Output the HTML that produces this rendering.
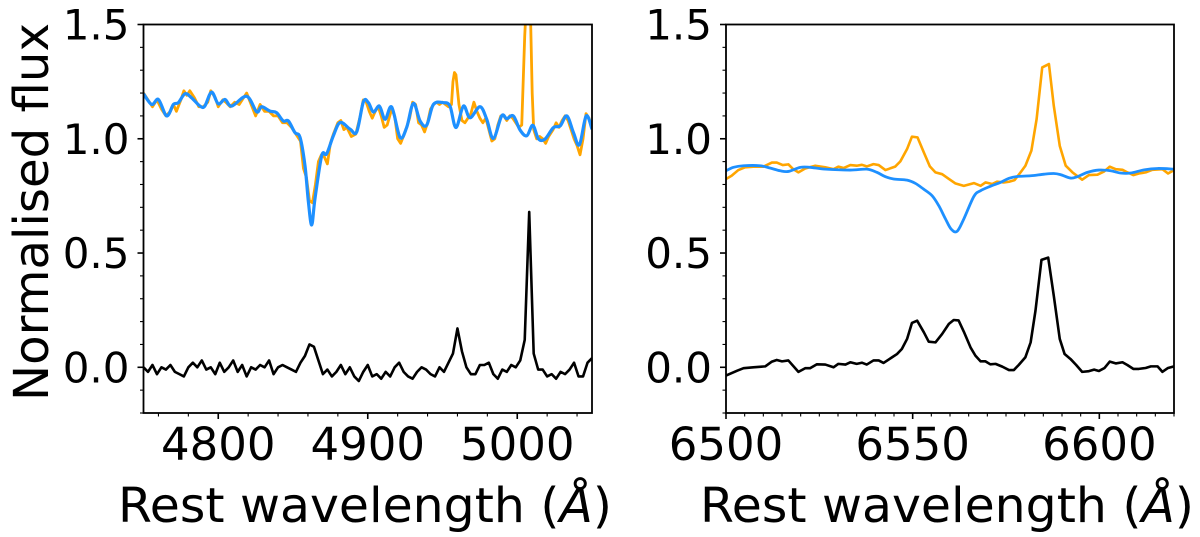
<!DOCTYPE html>
<html><head><meta charset="utf-8"><style>
html,body{margin:0;padding:0;background:#fff;}
svg{display:block;font-family:"DejaVu Sans","Liberation Sans",sans-serif;}
</style></head><body>
<svg id="chart" width="1200" height="537" viewBox="0 0 1200 537" xmlns="http://www.w3.org/2000/svg">
<defs>
<clipPath id="clipL"><rect x="143.5" y="24.5" width="448.5" height="388.5"/></clipPath>
<clipPath id="clipR"><rect x="726" y="24.5" width="448" height="388.5"/></clipPath>
</defs>
<g id="panelL"></g>
<g id="panelR"></g>
<text transform="translate(48,212) rotate(-90)" text-anchor="middle" font-size="48" textLength="378" lengthAdjust="spacingAndGlyphs">Normalised flux</text>
<text x="365" y="522" text-anchor="middle" font-size="48" textLength="494" lengthAdjust="spacingAndGlyphs">Rest wavelength (<tspan font-style="italic">Å</tspan>)</text>
<text x="947" y="522" text-anchor="middle" font-size="48" textLength="494" lengthAdjust="spacingAndGlyphs">Rest wavelength (<tspan font-style="italic">Å</tspan>)</text>
</svg>
<script>
// ---- Left panel data ----
const leftBlackLam = [];
for (let i = 0; i <= 100; i++) leftBlackLam.push(4750 + 3 * i);
const leftBlackFlux = [0.0,-0.02,0.01,-0.03,0.0,-0.01,0.01,-0.02,-0.03,-0.04,0.0,0.02,0.0,0.03,-0.01,0.0,-0.03,0.02,-0.02,0.0,0.03,-0.02,0.01,-0.04,0.0,-0.01,0.01,0.0,0.03,-0.03,0.0,0.01,0.0,-0.01,
-0.02,0.02,0.05,0.10,0.09,0.03,-0.03,-0.01,-0.04,-0.02,0.01,-0.03,0.00,-0.04,-0.06,-0.02,0.01,-0.04,-0.03,-0.05,-0.02,-0.04,0.0,0.02,-0.02,-0.04,-0.05,-0.02,0.0,-0.01,-0.03,-0.04,0.0,-0.02,0.02,0.06,0.17,0.07,0.0,-0.03,-0.03,0.01,0.01,0.02,-0.03,-0.05,-0.01,-0.02,0.01,0.0,0.03,0.12,0.68,0.06,-0.01,-0.01,-0.04,-0.03,-0.05,-0.02,-0.03,-0.01,0.02,-0.04,-0.04,0.02,0.04];
const leftBlueLam = [4750,4755.5,4760,4765.5,4770,4773.3,4777.8,4782.2,4787.8,4791,4795.5,4800,4804.5,4809,4819,4825.7,4829,4834.6,4839,4843.5,4846.9,4851.3,4854.7,4858,4860.3,4862.5,4864.7,4869.2,4872.5,4877,4881.5,4888.2,4892.6,4897.1,4900.4,4903.8,4907.8,4911.6,4916,4921.6,4926,4930.5,4935,4939.4,4943.9,4950.6,4955,4959,4964,4968.4,4975.1,4979.6,4984,4989.6,4993,4997.4,5001.9,5006.4,5010.4,5014.2,5018.6,5024.2,5028.7,5033.2,5037.6,5041.6,5046.1,5050];
const leftBlueFlux = [1.197,1.150,1.172,1.100,1.150,1.158,1.197,1.179,1.143,1.143,1.204,1.153,1.172,1.143,1.186,1.118,1.140,1.121,1.114,1.078,1.078,1.027,1.006,0.883,0.724,0.623,0.738,0.926,0.934,1.013,1.071,1.042,1.030,1.162,1.158,1.117,1.143,1.085,1.139,1.006,1.049,1.155,1.078,1.059,1.150,1.158,1.143,1.049,1.143,1.092,1.140,1.085,1.001,1.100,1.088,1.100,1.038,1.013,1.059,0.999,0.999,1.049,1.056,1.100,1.027,0.974,1.100,1.042];
const leftOrangeLam = [4750,4753,4756,4759,4762,4765,4768,4770,4772,4775,4777,4779,4781,4784,4787,4790,4793,4795,4798,4800,4803,4805,4808,4811,4814,4817,4819,4822,4825,4828,4831,4834,4837,4840,4843,4846,4849,4852,4855,4857,4859,4861,4863,4865,4867,4869,4871,4873,4875,4877,4880,4882,4884,4886,4889,4892,4895,4897,4899,4901,4903,4905,4907,4909,4911,4913,4916,4918,4920,4922,4925,4928,4930,4932,4934,4936,4938,4940,4942,4944,4946,4948,4950,4952,4954,4956,4957,4958,4959,4961,4963,4965,4967,4969,4971,4973,4975,4977,4979,4981,4983,4985,4987,4989,4991,4993,4995,4997,4999,5001,5003,5005,5006.5,5008.5,5010,5011,5013,5015,5017,5019,5021,5024,5026,5028,5030,5032,5034,5036,5038,5040,5042,5044,5046,5048,5050];
const leftOrangeFlux = [1.20,1.17,1.14,1.17,1.13,1.10,1.12,1.15,1.12,1.17,1.21,1.19,1.21,1.18,1.14,1.14,1.16,1.21,1.18,1.14,1.17,1.16,1.14,1.16,1.15,1.18,1.20,1.15,1.10,1.15,1.12,1.12,1.10,1.10,1.07,1.07,1.05,1.02,0.99,0.87,0.83,0.73,0.72,0.80,0.90,0.93,0.92,0.89,0.98,1.02,1.07,1.08,1.04,1.05,1.01,1.02,1.10,1.17,1.16,1.12,1.09,1.12,1.14,1.10,1.05,1.06,1.13,1.10,1.00,0.98,1.03,1.09,1.16,1.15,1.07,1.06,1.03,1.07,1.13,1.15,1.16,1.15,1.16,1.15,1.14,1.15,1.25,1.29,1.28,1.15,1.08,1.07,1.09,1.11,1.16,1.12,1.09,1.07,1.09,1.04,0.99,1.00,1.06,1.10,1.10,1.08,1.10,1.09,1.07,1.05,1.06,1.45,1.65,1.65,1.20,1.04,1.00,1.01,1.00,0.98,1.01,1.04,1.07,1.05,1.08,1.10,1.08,1.04,1.00,0.97,0.93,1.00,1.11,1.09,1.05];
// ---- Right panel data ----
const rightBlackLam = [6500,6503,6504.7,6507.3,6510.5,6512.3,6513.6,6515,6516.7,6519.4,6521.2,6522.5,6524.3,6526.6,6528.8,6530.1,6532,6533.3,6535,6536.4,6537.7,6539.5,6540.9,6542.2,6544.5,6545.8,6547.1,6548.5,6549.8,6551.2,6553,6554.3,6556.1,6557.9,6559.7,6561,6562.3,6563.7,6565.5,6566.8,6568.2,6569.5,6570.8,6572.2,6574,6575.8,6577.1,6578.4,6580.2,6581.6,6582.9,6584.5,6586.3,6587.8,6589.4,6590.7,6592.3,6593.8,6595.4,6597.2,6598.6,6599.9,6601.4,6602.8,6604.4,6606.2,6607.5,6609.1,6610.6,6612.4,6613.8,6615.6,6616.9,6618.4,6620];
const rightBlackFlux = [-0.036,-0.015,-0.004,0,0.004,0.025,0.032,0.026,0.03,-0.02,-0.004,-0.004,0.013,0.012,0.0,0.015,0.012,0.022,0.015,0.02,0.012,0.03,0.03,0.019,0.044,0.058,0.08,0.124,0.194,0.204,0.153,0.112,0.109,0.146,0.19,0.207,0.205,0.156,0.087,0.051,0.026,0.026,0.013,0.015,0.003,-0.012,-0.012,0.01,0.044,0.109,0.248,0.47,0.48,0.313,0.124,0.058,0.036,0.01,-0.02,-0.017,-0.01,-0.016,-0.003,0.025,0.017,0.022,0.01,-0.007,-0.007,-0.003,0.004,0.004,-0.02,-0.003,0.004];
const rightOrangeLam = [6500,6501.5,6503.3,6505.1,6507.3,6510,6512.3,6513.6,6515.2,6516.7,6518,6519.4,6521.2,6523.9,6526.6,6528.8,6530.1,6531.5,6533.3,6535,6536.4,6537.7,6539.5,6540.9,6542.7,6545.3,6546.7,6548.5,6549.8,6551.3,6553,6554.6,6556.1,6557.9,6559.7,6561.4,6563.7,6566.4,6568.2,6569.5,6571.3,6572.6,6574.4,6575.8,6577.3,6578.9,6580.2,6581.8,6583.2,6584.7,6586.5,6587.8,6589.4,6591,6592.8,6595.4,6597.2,6599.5,6601.3,6602.8,6604.4,6606.2,6607.5,6609.1,6610.6,6612.4,6614.2,6616.9,6618.4,6620];
const rightOrangeFlux = [0.824,0.838,0.863,0.875,0.878,0.878,0.896,0.896,0.885,0.888,0.867,0.853,0.87,0.882,0.875,0.867,0.878,0.872,0.885,0.882,0.886,0.879,0.889,0.885,0.863,0.878,0.901,0.955,1.009,1.006,0.94,0.879,0.853,0.845,0.824,0.805,0.794,0.806,0.794,0.809,0.802,0.812,0.809,0.812,0.819,0.853,0.882,0.948,1.086,1.312,1.327,1.144,0.969,0.882,0.853,0.821,0.841,0.843,0.857,0.878,0.867,0.864,0.853,0.841,0.848,0.853,0.864,0.867,0.848,0.863];
const rightBlueLam = [6500,6502,6504.7,6509.1,6511.8,6514.5,6516.7,6519.9,6522.5,6526.6,6533.3,6537.7,6540.4,6542.7,6544.9,6548.5,6550.7,6552.9,6555.2,6557,6558.8,6560.3,6561.9,6563.7,6566.4,6568.2,6570.8,6573.5,6575.8,6578,6581.6,6585.2,6587.8,6589.6,6592.3,6594.1,6596.8,6599.9,6603,6605.7,6608.4,6612,6615.6,6620];
const rightBlueFlux = [0.86,0.875,0.882,0.882,0.872,0.86,0.857,0.875,0.875,0.867,0.863,0.867,0.853,0.834,0.824,0.819,0.805,0.78,0.751,0.707,0.649,0.605,0.595,0.649,0.748,0.773,0.792,0.809,0.827,0.835,0.838,0.845,0.848,0.843,0.828,0.834,0.853,0.863,0.86,0.85,0.85,0.864,0.87,0.867];
const yTickLabels = ["0.0","0.5","1.0","1.5"];
const yTickValues = [0, 0.5, 1.0, 1.5];
const leftXTicks = [4800, 4900, 5000];
const rightXTicks = [6500, 6550, 6600];

const NS = "http://www.w3.org/2000/svg";
const yTop = 24.5, yBot = 413, yMin = -0.2, yMax = 1.5;
function yScale(v){ return yBot - (v - yMin) / (yMax - yMin) * (yBot - yTop); }
function mk(tag, attrs, parent){ const e = document.createElementNS(NS, tag); for (const k in attrs) e.setAttribute(k, attrs[k]); parent.appendChild(e); return e; }

function smoothPath(pts){
  let d = 'M' + pts[0][0].toFixed(2) + ',' + pts[0][1].toFixed(2);
  for (let i = 0; i < pts.length - 1; i++) {
    const p0 = pts[Math.max(0, i - 1)], p1 = pts[i], p2 = pts[i + 1], p3 = pts[Math.min(pts.length - 1, i + 2)];
    const c1x = p1[0] + (p2[0] - p0[0]) / 6, c1y = p1[1] + (p2[1] - p0[1]) / 6;
    const c2x = p2[0] - (p3[0] - p1[0]) / 6, c2y = p2[1] - (p3[1] - p1[1]) / 6;
    d += 'C' + c1x.toFixed(2) + ',' + c1y.toFixed(2) + ' ' + c2x.toFixed(2) + ',' + c2y.toFixed(2) + ' ' + p2[0].toFixed(2) + ',' + p2[1].toFixed(2);
  }
  return d;
}

function panel(g, x0, x1, lo, hi, minorStep, majorTicks, clipId, series, side){
  const xs = v => x0 + (v - lo) / (hi - lo) * (x1 - x0);
  const sg = mk('g', {'clip-path': 'url(#' + clipId + ')'}, g);
  
  
  series.forEach(s => {
    const pts = s.lam.map((l, i) => [xs(l), yScale(s.flux[i])]);
    let d;
    if (s.smooth) d = smoothPath(pts);
    else { d = ''; pts.forEach((p, i) => { d += (i ? 'L' : 'M') + p[0].toFixed(2) + ',' + p[1].toFixed(2); }); }
    const p = mk('path', {d: d, fill: 'none', stroke: s.color, 'stroke-width': s.w, 'stroke-linejoin': 'round'}, sg);
    
    
  });
  const fr = mk('rect', {x: x0, y: yTop, width: x1 - x0, height: yBot - yTop, fill: 'none', stroke: '#000', 'stroke-width': 1.8}, g);
  
  
  for (let k = 0; k <= 17; k++) {
    const v = yMin + k * 0.1, y = yScale(v);
    const major = Math.abs(v * 2 - Math.round(v * 2)) < 1e-6;
    const t = mk('line', {x1: x0 - (major ? 6 : 3.5), x2: x0, y1: y, y2: y, stroke: '#000', 'stroke-width': major ? 1.6 : 1.1}, g);
    
    
  }
  yTickValues.forEach((v, i) => {
    const t = mk('text', {x: x0 - 14, y: yScale(v) + 15, 'text-anchor': 'end', 'font-size': 42}, g);
    t.textContent = yTickLabels[i];
    
    
  });
  for (let v = Math.ceil(lo / minorStep) * minorStep; v <= hi + 1e-6; v += minorStep) {
    const major = majorTicks.some(m => Math.abs(m - v) < 1e-6);
    const x = xs(v);
    const t = mk('line', {x1: x, x2: x, y1: yBot, y2: yBot + (major ? 6 : 3.5), stroke: '#000', 'stroke-width': major ? 1.6 : 1.1}, g);
    
    
  }
  majorTicks.forEach(v => {
    const t = mk('text', {x: xs(v), y: 460, 'text-anchor': 'middle', 'font-size': 45}, g);
    t.textContent = String(v);
    
    
  });
}

panel(document.getElementById('panelL'), 143.5, 592, 4750, 5050, 20, leftXTicks, 'clipL', [
  {lam: leftOrangeLam, flux: leftOrangeFlux, color: '#ffa500', w: 2.8, name: 'observed-spectrum', smooth: false},
  {lam: leftBlueLam, flux: leftBlueFlux, color: '#1e90ff', w: 3.2, name: 'model-spectrum', smooth: true},
  {lam: leftBlackLam, flux: leftBlackFlux, color: '#000', w: 2.6, name: 'residual-spectrum', smooth: false}
], 'left');
panel(document.getElementById('panelR'), 726, 1174, 6500, 6620, 5, rightXTicks, 'clipR', [
  {lam: rightOrangeLam, flux: rightOrangeFlux, color: '#ffa500', w: 2.6, name: 'observed-spectrum', smooth: false},
  {lam: rightBlueLam, flux: rightBlueFlux, color: '#1e90ff', w: 2.8, name: 'model-spectrum', smooth: true},
  {lam: rightBlackLam, flux: rightBlackFlux, color: '#000', w: 2.6, name: 'residual-spectrum', smooth: false}
], 'right');
</script>
</body></html>
